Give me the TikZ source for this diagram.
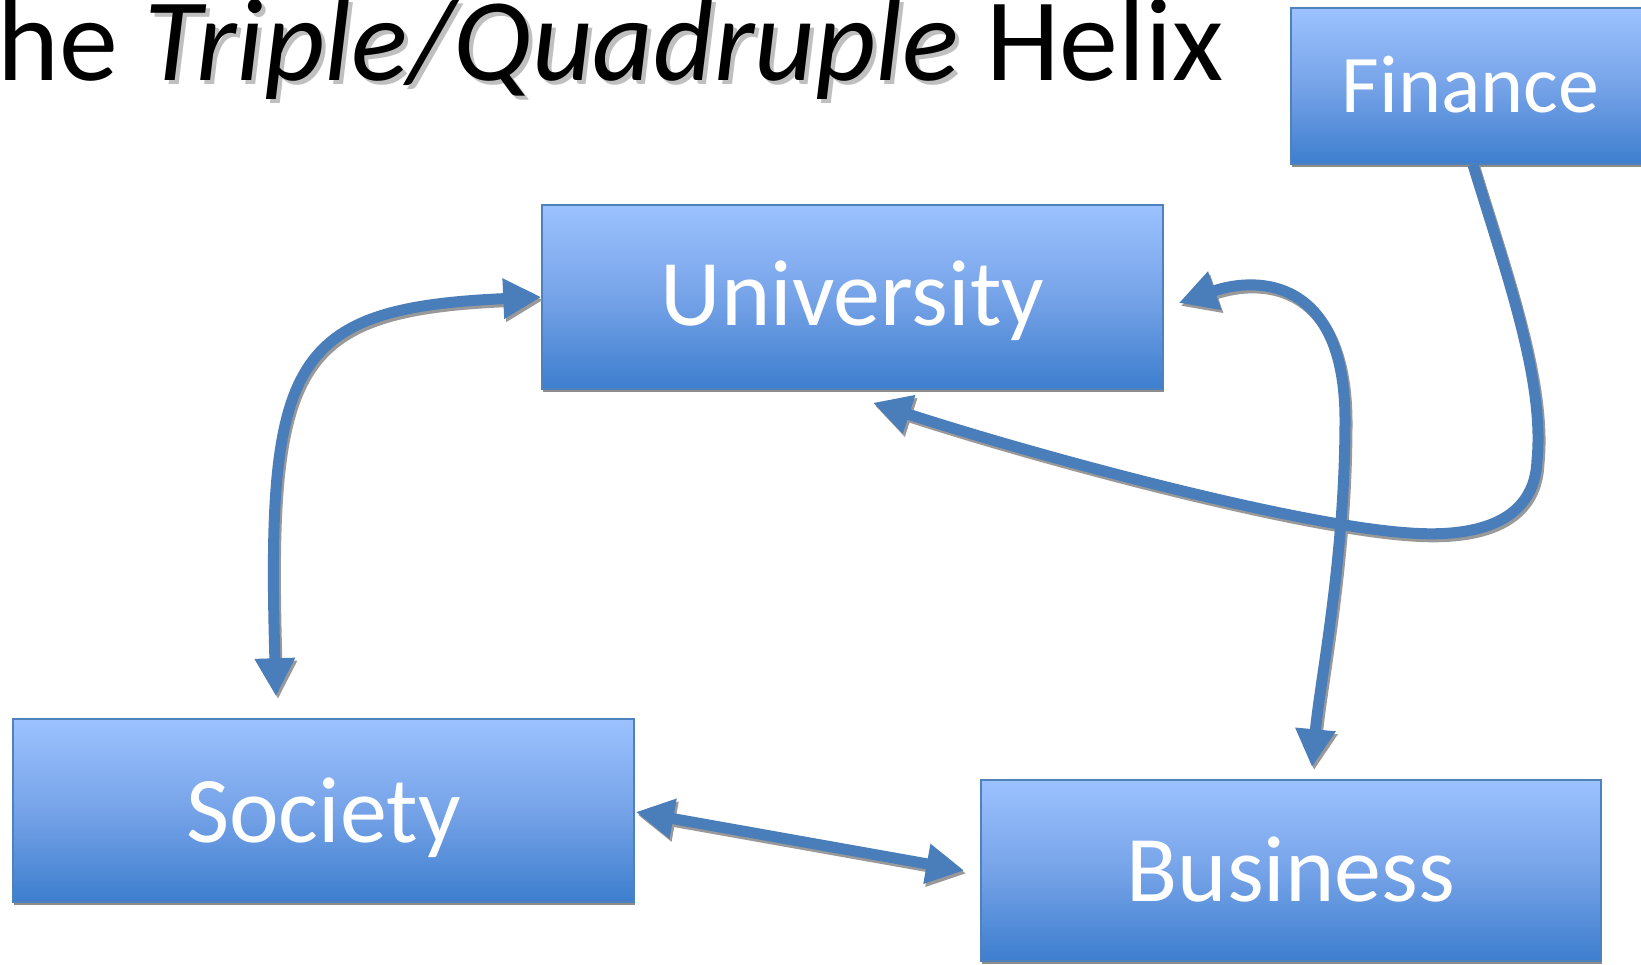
\documentclass[tikz,border=0pt]{standalone}
\usepackage{fontspec}
\setmainfont{Carlito}
\usetikzlibrary{arrows.meta,shadows}
\definecolor{boxtop}{RGB}{156,194,255}
\definecolor{boxmid}{RGB}{118,163,232}
\definecolor{boxbot}{RGB}{61,126,206}
\definecolor{boxline}{RGB}{79,129,189}
\definecolor{connblue}{RGB}{74,126,187}
\newcommand\shadowtext[1]{\makebox[0pt][l]{\hspace{4pt}\raisebox{-4pt}{\textcolor{black!25}{#1}}}#1}
\newcommand\helixconn[1]{%
  \draw[#1,<->] (univ.west) .. controls (290,308) and (266,360) .. ([shift={(-47.5,-22)}]soc.north);
  \draw[#1,<->] ([shift={(15,6)}]univ.east) .. controls (1260,275) and (1345,280) .. (1345,420)
     .. controls (1345,560) and (1320,680) .. ([shift={(21,-12)}]bus.north);
  \draw[#1,->] ([shift={(2.5,0)}]fin.south) .. controls (1505,270) and (1545,380) .. (1537,460)
     .. controls (1535,520) and (1480,538) .. (1410,533)
     .. controls (1300,526) and (1050,460) .. ([shift={(20.5,13)}]univ.south);
  \draw[#1,<->] ([shift={(1,1.5)}]soc.east) -- ([shift={(-16,0)}]bus.west);
}
\begin{document}
\begin{tikzpicture}[x=1pt,y=-1pt,
  >={Triangle[length=38pt,width=38pt]},
  helixbox/.style={rectangle, draw=boxline, line width=1.5pt,
    top color=boxtop, bottom color=boxbot, middle color=boxmid,
    text=white, inner sep=0pt, text depth=0pt,
    drop shadow={shadow xshift=1pt, shadow yshift=-3pt, fill=black!45, opacity=1}},
  bigtext/.style={font=\fontsize{94}{100}\selectfont},
  conn/.style={draw=connblue, line width=11pt},
  connshadow/.style={draw=black!40, line width=11pt, transform canvas={shift={(2,3)}}}
]
\path[use as bounding box, fill=white] (0,0) rectangle (1641,965);
\clip (0,0) rectangle (1641,965);

\node[anchor=base west, inner sep=0pt, font=\fontsize{118}{122}\selectfont] (title) at (-3,81)
  {he \textit{\shadowtext{Triple/Quadruple}} Helix};

\node[helixbox, bigtext, text height=57pt, minimum width=621pt, minimum height=184pt] (univ) at (852.5,297) {University};
\node[helixbox, bigtext, text height=63pt, minimum width=621pt, minimum height=183pt] (soc) at (323.5,810.5) {Society};
\node[helixbox, bigtext, text height=62pt, minimum width=620pt, minimum height=181pt] (bus) at (1291,870.5) {Business};
\node[helixbox, font=\fontsize{82}{90}\selectfont, text height=54pt, minimum width=359pt, minimum height=156pt] (fin) at (1470.5,86) {Finance};

\helixconn{connshadow}
\helixconn{conn}
\end{tikzpicture}
\end{document}
